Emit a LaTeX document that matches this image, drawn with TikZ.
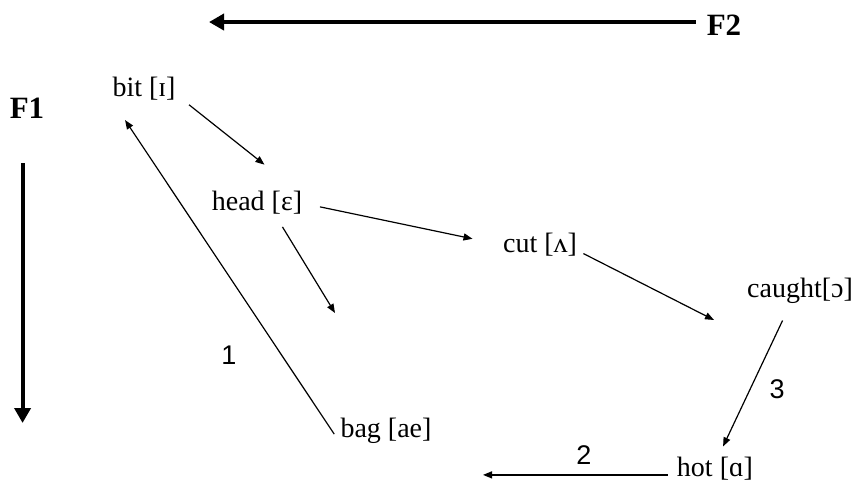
\documentclass[tikz,border=0pt]{standalone}
\usepackage{fontspec}
\setmainfont{Liberation Serif}
\newfontfamily\digitfont{Liberation Sans}
\usetikzlibrary{arrows.meta}
\tikzset{
  % Word with its vowel symbol
  vowel/.style={
    inner sep=0pt, anchor=base,
    font=\fontsize{28}{32}\selectfont
  },
  % Formant axis label
  fmt/.style={
    inner sep=0pt, anchor=base,
    font=\fontsize{31}{34}\selectfont\bfseries
  },
  % Step number
  num/.style={inner sep=0pt, font=\digitfont\fontsize{27}{30}\selectfont},
  % Thin arrow between vowels
  arr/.style={
    -{Triangle[length=9pt,width=7pt]},
    line width=1.2pt
  },
  % Thick formant axis arrow
  axis/.style={
    -{Triangle[length=15pt,width=16pt]},
    line width=4pt
  }
}

\begin{document}
\begin{tikzpicture}[x=1pt,y=-1pt]
  \useasboundingbox (0,0) rectangle (857,481);

  % Formant axes
  \node[fmt] (F2lbl) at (724,36)  {F2};
  \node[fmt] (F1lbl) at (27,119)  {F1};
  \coordinate (f2tip) at (209,22);
  \coordinate (f1tip) at (23,423);
  \draw[axis, shorten <=11pt] (F2lbl.168)  -- (F2lbl.168 -| f2tip);
  \draw[axis, shorten <=44pt] (F1lbl.-113) -- (F1lbl.-113 |- f1tip);

  % Vowels
  \node[vowel] (bit)    at (144,97)  {bit [ɪ]};
  \node[vowel] (head)   at (257,211) {head [ɛ]};
  \node[vowel] (cut)    at (540,253) {cut [ʌ]};
  \node[vowel] (caught) at (800,298) {caught[ɔ]};
  \node[vowel] (hot)    at (715,476) {hot [ɑ]};
  \node[vowel] (bag)    at (386,437) {bag [ae]};

  % Open arrow ends
  \coordinate (headend) at (335,313);
  \coordinate (cutend)  at (714,320);
  \coordinate (hotend)  at (483,475);

  % Arrows
  \draw[arr, shorten <=17pt, shorten >=43pt] (bit.-9)      -- (head.16);
  \draw[arr, shorten <=14pt]                 (head.-33)    -- (headend);
  \draw[arr, shorten <=18pt, shorten >=31pt] (head.east)   -- (cut.west);
  \draw[arr, shorten <=7pt]                  (cut.-8)      -- (cutend);
  \draw[arr, shorten <=18pt, shorten >=11pt] (caught.-127) -- (hot.74);
  \draw[arr, shorten <=9pt]                  (hot.190)     -- (hot.190 -| hotend);
  \draw[arr, shorten <=11pt, shorten >=23pt] (bag.south west) -- (bit.south west);

  % Step numbers
  \node[num] (n1) at (229,355) {1};
  \node[num] (n2) at (584,455) {2};
  \node[num] (n3) at (777,389) {3};

\end{tikzpicture}
\end{document}
